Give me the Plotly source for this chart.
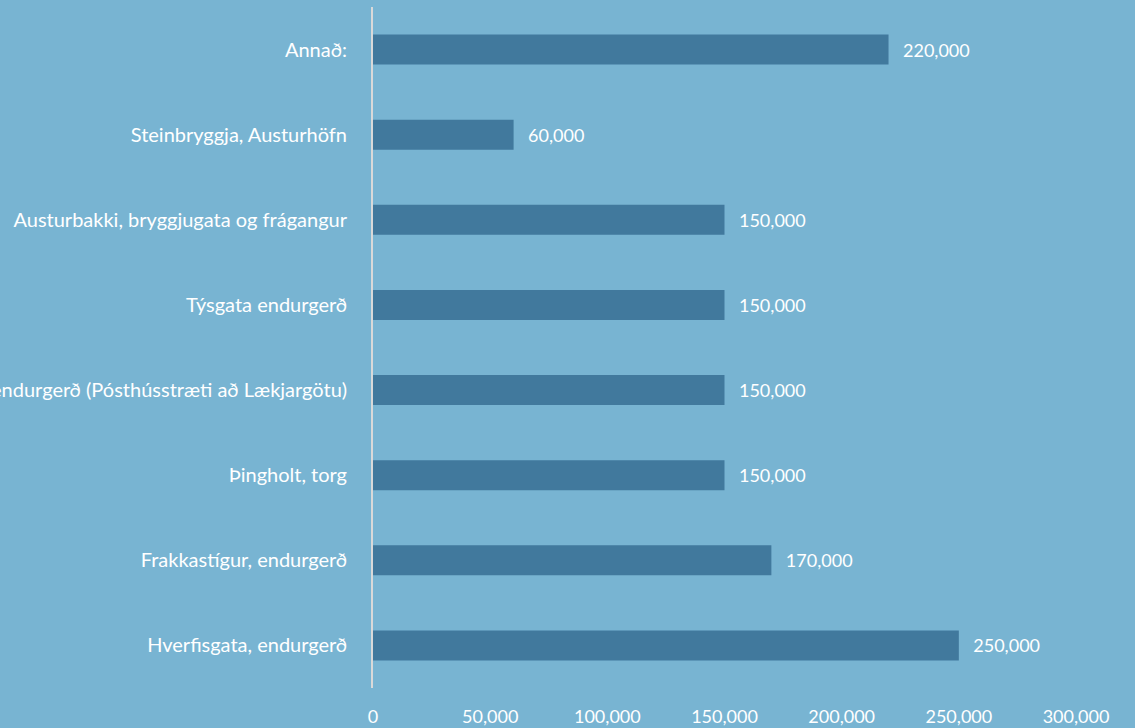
import plotly.graph_objects as go

categories = [
    "Hverfisgata, endurgerð",
    "Frakkastígur, endurgerð",
    "Þingholt, torg",
    "Hafnarstræti, endurgerð (Pósthússtræti að Lækjargötu)",
    "Týsgata endurgerð",
    "Austurbakki, bryggjugata og frágangur",
    "Steinbryggja, Austurhöfn",
    "Annað:",
]
values = [250000, 170000, 150000, 150000, 150000, 150000, 60000, 220000]
x_ticks = [0, 50000, 100000, 150000, 200000, 250000, 300000]

BG = "#78b4d2"
BAR = "#41799d"
FONT = "Lato, 'Open Sans', sans-serif"

fig = go.Figure(
    go.Bar(
        y=categories,
        x=values,
        orientation="h",
        marker=dict(color=BAR, line=dict(width=0)),
        text=values,
        texttemplate="\u00a0\u00a0\u2009%{x:,}",
        textposition="outside",
        textfont=dict(color="white", size=18, family=FONT),
        constraintext="none",
        cliponaxis=False,
        hoverinfo="skip",
    )
)

fig.update_layout(
    width=1135,
    height=728,
    paper_bgcolor=BG,
    plot_bgcolor=BG,
    margin=dict(l=373, r=59, t=7, b=40, autoexpand=False),
    bargap=0.648,
    showlegend=False,
    font=dict(family=FONT, size=18, color="white"),
    xaxis=dict(
        range=[0, 300000],
        tickvals=x_ticks,
        tickformat=",",
        showgrid=False,
        zeroline=False,
        showline=False,
        ticks="",
        ticklabelstandoff=16,
        automargin=False,
        fixedrange=True,
    ),
    yaxis=dict(
        showline=True,
        linecolor="#d9d9d9",
        linewidth=2,
        showgrid=False,
        zeroline=False,
        ticks="",
        ticklabelstandoff=20,
        tickfont=dict(size=20),
        automargin=False,
        fixedrange=True,
    ),
)

fig.write_html(
    "out.html",
    config={"displayModeBar": False},
    post_script="document.body.style.margin='0';document.body.style.overflow='hidden';",
)
